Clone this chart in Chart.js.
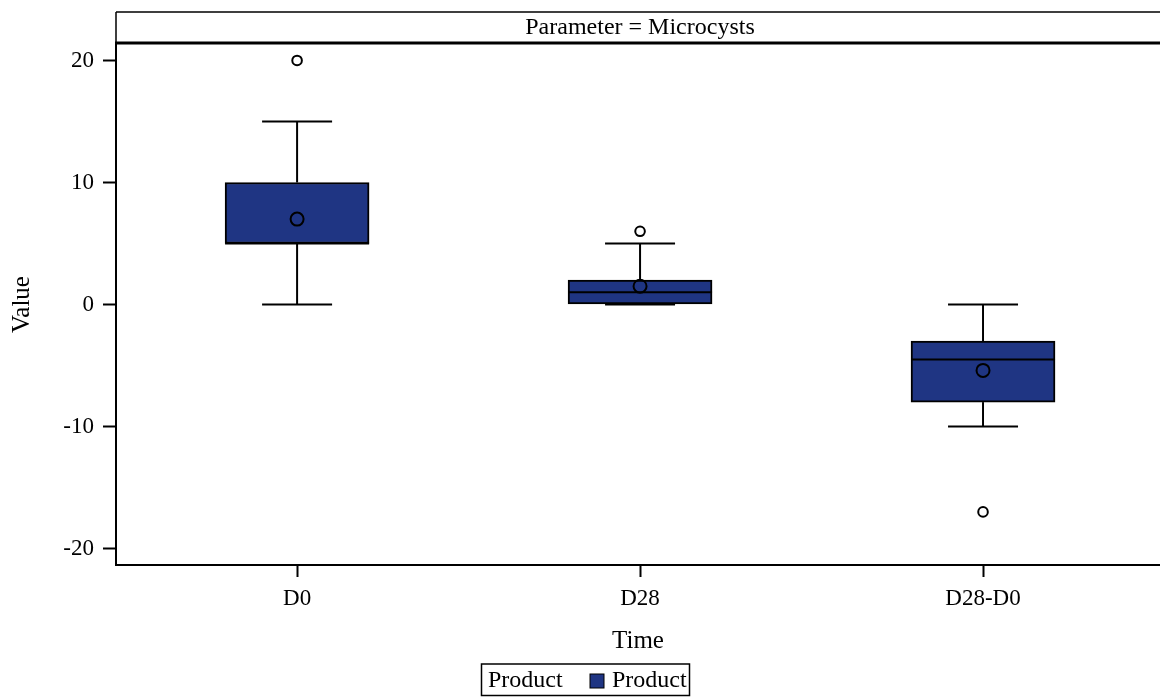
<!DOCTYPE html>
<html>
<head>
<meta charset="utf-8">
<script src="https://cdn.jsdelivr.net/npm/chart.js@4/dist/chart.umd.min.js"></script>
<style>
  body { margin: 0; background: #fff; }
  #wrap { width: 1160px; height: 697px; position: relative; }
</style>
</head>
<body>
<div id="wrap"><canvas id="boxChart"></canvas></div>
<script>
// box plot data
const categories = ['D0', 'D28', 'D28-D0'];
const q1 = [5, 0, -8];
const q3 = [10, 2, -3];
const medians = [5, 1, -4.5];
const means = [7, 1.5, -5.4];
const whiskerLow = [0, 0, -10];
const whiskerHigh = [15, 5, 0];
const outliers = [[20], [6], [-17]];
const yTicks = [-20, -10, 0, 10, 20];

const boxColor = '#1f3583';
const serif = "'Liberation Serif', 'Times New Roman', serif";

Chart.defaults.font.family = serif;
Chart.defaults.color = '#000';

// whiskers, caps and median lines, drawn right after the boxes
const whiskerPlugin = {
    id: 'whiskers',
    afterDatasetDraw(chart, args) {
        if (args.index !== 0) return;
        const ctx = chart.ctx;
        const xs = chart.scales.x, ys = chart.scales.y;
        const capHalf = 35, boxHalf = 72;
        ctx.save();
        ctx.strokeStyle = '#000';
        ctx.lineWidth = 2;
        categories.forEach((c, i) => {
            const cx = xs.getPixelForValue(i);
            const segs = [
                [cx, ys.getPixelForValue(q3[i]), cx, ys.getPixelForValue(whiskerHigh[i])],
                [cx, ys.getPixelForValue(q1[i]), cx, ys.getPixelForValue(whiskerLow[i])],
                [cx - capHalf, ys.getPixelForValue(whiskerHigh[i]), cx + capHalf, ys.getPixelForValue(whiskerHigh[i])],
                [cx - capHalf, ys.getPixelForValue(whiskerLow[i]), cx + capHalf, ys.getPixelForValue(whiskerLow[i])],
                [cx - boxHalf, ys.getPixelForValue(medians[i]), cx + boxHalf, ys.getPixelForValue(medians[i])]
            ];
            segs.forEach(s => {
                ctx.beginPath();
                ctx.moveTo(s[0], s[1]);
                ctx.lineTo(s[2], s[3]);
                ctx.stroke();
            });
        });
        ctx.restore();
    }
};

// panel header strip and the boxed legend at the bottom
const framePlugin = {
    id: 'frame',
    afterDraw(chart) {
        const ctx = chart.ctx;
        const area = chart.chartArea;
        ctx.save();
        ctx.strokeStyle = '#000';
        ctx.lineWidth = 1.5;
        ctx.beginPath();
        ctx.moveTo(area.left, 12);
        ctx.lineTo(chart.width, 12);
        ctx.moveTo(area.left, 12);
        ctx.lineTo(area.left, area.top);
        ctx.stroke();
        ctx.lineWidth = 3;
        ctx.beginPath();
        ctx.moveTo(area.left - 1, area.top - 1);
        ctx.lineTo(chart.width, area.top - 1);
        ctx.stroke();

        ctx.fillStyle = '#000';
        ctx.font = '24px ' + serif;
        ctx.textAlign = 'center';
        ctx.textBaseline = 'middle';
        ctx.fillText('Parameter = Microcysts', (area.left + area.right) / 2 + 2, 28);

        // legend
        ctx.lineWidth = 1.5;
        ctx.strokeRect(481.5, 664, 208, 31.5);
        ctx.textAlign = 'left';
        ctx.fillText('Product', 488, 681);
        ctx.fillStyle = boxColor;
        ctx.fillRect(590, 674, 14, 14);
        ctx.lineWidth = 1;
        ctx.strokeRect(590, 674, 14, 14);
        ctx.fillStyle = '#000';
        ctx.fillText('Product', 612, 681);
        ctx.restore();
    }
};

const ctx = document.getElementById('boxChart').getContext('2d');
const boxChart = new Chart(ctx, {
    type: 'bar',
    data: {
        datasets: [
            {
                label: 'Product',
                data: categories.map((c, i) => ({ x: i, y: [q1[i], q3[i]] })),
                backgroundColor: boxColor,
                borderColor: '#000',
                borderWidth: 2,
                borderSkipped: false,
                barThickness: 144,
                grouped: false,
                order: 3
            },
            {
                type: 'scatter',
                label: 'Mean',
                data: categories.map((c, i) => ({ x: i, y: means[i] })),
                pointRadius: 6.5,
                pointBorderWidth: 2,
                borderColor: '#000',
                backgroundColor: 'rgba(0,0,0,0)',
                order: 1
            },
            {
                type: 'scatter',
                label: 'Outliers',
                data: outliers.flatMap((vals, i) => vals.map(v => ({ x: i, y: v }))),
                pointRadius: 4.8,
                pointBorderWidth: 2,
                borderColor: '#000',
                backgroundColor: '#fff',
                order: 1
            }
        ]
    },
    options: {
        responsive: true,
        maintainAspectRatio: false,
        animation: false,
        layout: {
            autoPadding: false,
            padding: { top: 44, bottom: 37, left: 0, right: 0 }
        },
        plugins: {
            legend: { display: false },
            tooltip: { enabled: false }
        },
        scales: {
            x: {
                type: 'linear',
                min: -0.528,
                max: 2.516,
                offset: false,
                afterBuildTicks: (scale) => {
                    scale.ticks = categories.map((c, i) => ({ value: i }));
                },
                afterFit: (scale) => {
                    scale.height = 95;
                    scale.paddingLeft = 0;
                    scale.paddingRight = 0;
                },
                grid: {
                    offset: false,
                    drawOnChartArea: false,
                    tickLength: 12,
                    tickWidth: 2,
                    color: '#000'
                },
                border: { color: '#000', width: 2 },
                ticks: {
                    autoSkip: false,
                    maxRotation: 0,
                    padding: 8,
                    font: { size: 23 },
                    callback: (v) => categories[v]
                },
                title: {
                    display: true,
                    text: 'Time',
                    font: { size: 25 },
                    padding: { top: 0, bottom: 4 }
                }
            },
            y: {
                min: -21.35,
                max: 21.35,
                afterBuildTicks: (scale) => {
                    scale.ticks = yTicks.map(v => ({ value: v }));
                },
                afterFit: (scale) => {
                    scale.width = 116;
                    scale.paddingTop = 0;
                    scale.paddingBottom = 0;
                },
                grid: {
                    drawOnChartArea: false,
                    tickLength: 13,
                    tickWidth: 2,
                    color: '#000'
                },
                border: { color: '#000', width: 2 },
                ticks: {
                    padding: 9,
                    font: { size: 23 }
                },
                title: {
                    display: true,
                    text: 'Value',
                    font: { size: 25 },
                    padding: { top: 7, bottom: 0 }
                }
            }
        }
    },
    plugins: [whiskerPlugin, framePlugin]
});
</script>
</body>
</html>
